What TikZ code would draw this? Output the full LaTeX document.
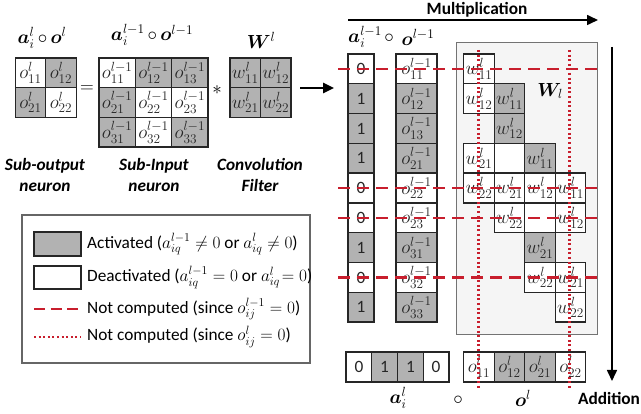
\RequirePackage{fix-cm}
\documentclass[tikz,border=0pt]{standalone}
\usepackage{fontspec}
\setmainfont{Carlito}
\usepackage{amsmath}
\usepackage{bm}
\usetikzlibrary{arrows.meta}
\definecolor{ncred}{RGB}{200,30,45}
\newcommand{\figfont}{\fontsize{17.28}{21}\selectfont}
\newcommand{\cellfont}{\fontsize{19}{22}\selectfont}
\begin{document}
\begin{tikzpicture}[x=1pt,y=-1pt,>={Triangle[length=11pt,width=10pt]},
  every node/.style={font=\figfont},
  cell/.style={draw=black!85,line width=1.4pt,inner sep=0pt,outer sep=0pt,minimum width=30.5pt,minimum height=29.8pt,text=black!85,font=\cellfont},
  act/.style={cell,fill=black!30},
  deact/.style={cell,fill=white},
  caption/.style={font=\figfont\bfseries\itshape,align=center},
  notin/.style={draw=ncred,line width=2.2pt,dash pattern=on 12pt off 7pt},
  notout/.style={draw=ncred,line width=2.2pt,dash pattern=on 2pt off 2.6pt},]
\useasboundingbox (0,0) rectangle (641,414);
% sub-output neuron = sub-input neuron * filter
\node (lab-out) at (42,38)[font=\cellfont] {$\bm a_i^{l}\,{\circ}\,\bm o^{l}$};
\node (lab-in) at (152,35)[font=\cellfont] {$\bm a_i^{l-1}\,{\circ}\,\bm o^{l-1}$};
\node (lab-W) at (261,40)[font=\cellfont] {$\bm W^{l}$};
\node (S11) at (30.5,73)[deact] {$o_{11}^{l}$};
\node (S12) at (61,73)[act] {$o_{12}^{l}$};
\node (S21) at (30.5,102.5)[act] {$o_{21}^{l}$};
\node (S22) at (61,102.5)[deact] {$o_{22}^{l}$};
\node (eq) at (87,89)[font=\cellfont] {$=$};
\node (I11) at (117.2,72.8)[deact,minimum width=36.3pt] {$o_{11}^{l-1}$};
\node (I12) at (153.5,72.8)[act,minimum width=36.3pt] {$o_{12}^{l-1}$};
\node (I13) at (189.8,72.8)[act,minimum width=36.3pt] {$o_{13}^{l-1}$};
\node (I21) at (117.2,102.5)[act,minimum width=36.3pt] {$o_{21}^{l-1}$};
\node (I22) at (153.5,102.5)[deact,minimum width=36.3pt] {$o_{22}^{l-1}$};
\node (I23) at (189.8,102.5)[deact,minimum width=36.3pt] {$o_{23}^{l-1}$};
\node (I31) at (117.2,132.2)[act,minimum width=36.3pt] {$o_{31}^{l-1}$};
\node (I32) at (153.5,132.2)[deact,minimum width=36.3pt] {$o_{32}^{l-1}$};
\node (I33) at (189.8,132.2)[act,minimum width=36.3pt] {$o_{33}^{l-1}$};
\node (ast) at (217,90)[font=\cellfont] {$*$};
\node (F11) at (245.3,73)[act] {$w_{11}^{l}$};
\node (F12) at (275.8,73)[act] {$w_{12}^{l}$};
\node (F21) at (245.3,102.5)[act] {$w_{21}^{l}$};
\node (F22) at (275.8,102.5)[act] {$w_{22}^{l}$};
\node (cap-out) at (45,175)[caption] {Sub-output\\neuron};
\node (cap-in) at (154,175)[caption] {Sub-Input\\neuron};
\node (cap-W) at (260,175)[caption] {Convolution\\Filter};
\coordinate (go1) at (300,88);
\coordinate (go2) at (334,88);
\draw[->,line width=2.5pt] (go1)--(go2);
% legend
\node (leg) at (166,289)[draw=black!60,line width=1.2pt,minimum width=288pt,minimum height=148pt] {};
\node (sw1) at (57.5,244)[act,minimum width=47pt,minimum height=24pt] {};
\node (sw2) at (57.5,277.5)[deact,minimum width=47pt,minimum height=23pt] {};
\coordinate (ln1a) at (34,309);
\coordinate (ln1b) at (81,309);
\coordinate (ln2a) at (34,337);
\coordinate (ln2b) at (81,337);
\draw[notin,dash pattern=on 11pt off 5.5pt] (ln1a)--(ln1b);
\draw[notout] (ln2a)--(ln2b);
\node (t-act) at (87,244)[anchor=west,inner sep=0pt] {Activated ($a_{iq}^{l-1}\neq 0$ or $a_{iq}^{l}\neq 0$)};
\node (t-deact) at (87,277.5)[anchor=west,inner sep=0pt] {Deactivated ($a_{iq}^{l-1}=0$ or $a_{iq}^{l}\!= 0$)};
\node (t-in) at (87,309)[anchor=west,inner sep=0pt] {Not computed (since $o_{ij}^{l-1}=0$)};
\node (t-out) at (87,337)[anchor=west,inner sep=0pt] {Not computed (since $o_{ij}^{l}=0$)};
% multiplication / addition
\node (mul) at (477,10)[font=\figfont\bfseries] {Multiplication};
\coordinate (mul1) at (348,20);
\coordinate (mul2) at (598,20);
\draw[->,line width=1.6pt] (mul1)--(mul2);
\node (add) at (609,398)[font=\figfont\bfseries] {Addition};
\coordinate (add1) at (612,47);
\coordinate (add2) at (612,381);
\draw[->,line width=1.6pt] (add1)--(add2);
% input columns
\node (lab-a) at (365,37)[font=\cellfont] {$\bm a_i^{l-1}$};
\node (lab-c1) at (389,38)[font=\cellfont] {$\circ$};
\node (lab-o) at (418,37)[font=\cellfont] {$\bm o^{l-1}$};
\node (a1) at (361,68.9)[deact,minimum width=26pt,font=\figfont] {0};
\node (a2) at (361,98.7)[act,minimum width=26pt,font=\figfont] {1};
\node (a3) at (361,128.5)[act,minimum width=26pt,font=\figfont] {1};
\node (a4) at (361,158.3)[act,minimum width=26pt,font=\figfont] {1};
\node (a5) at (361,188.1)[deact,minimum width=26pt,font=\figfont] {0};
\node (a6) at (361,217.9)[deact,minimum width=26pt,font=\figfont] {0};
\node (a7) at (361,247.7)[act,minimum width=26pt,font=\figfont] {1};
\node (a8) at (361,277.5)[deact,minimum width=26pt,font=\figfont] {0};
\node (a9) at (361,307.3)[act,minimum width=26pt,font=\figfont] {1};
\node (o1) at (416.5,68.9)[deact,minimum width=41pt] {$o_{11}^{l-1}$};
\node (o2) at (416.5,98.7)[act,minimum width=41pt] {$o_{12}^{l-1}$};
\node (o3) at (416.5,128.5)[act,minimum width=41pt] {$o_{13}^{l-1}$};
\node (o4) at (416.5,158.3)[act,minimum width=41pt] {$o_{21}^{l-1}$};
\node (o5) at (416.5,188.1)[deact,minimum width=41pt] {$o_{22}^{l-1}$};
\node (o6) at (416.5,217.9)[deact,minimum width=41pt] {$o_{23}^{l-1}$};
\node (o7) at (416.5,247.7)[act,minimum width=41pt] {$o_{31}^{l-1}$};
\node (o8) at (416.5,277.5)[deact,minimum width=41pt] {$o_{32}^{l-1}$};
\node (o9) at (416.5,307.3)[act,minimum width=41pt] {$o_{33}^{l-1}$};
% unrolled filter W_l
\node (Wbox) at (526.5,189)[draw=black!55,fill=black!4,line width=1pt,minimum width=141pt,minimum height=292pt] {};
\node (Wl) at (550,91)[font=\cellfont] {$\bm W_{l}$};
\node (m11) at (479,68.9)[deact] {$w_{11}^{l}$};
\node (m21) at (479,98.7)[deact] {$w_{12}^{l}$};
\node (m22) at (509.5,98.7)[act] {$w_{11}^{l}$};
\node (m32) at (509.5,128.5)[act] {$w_{12}^{l}$};
\node (m41) at (479,158.3)[deact] {$w_{21}^{l}$};
\node (m42) at (509.5,158.3)[deact] {};
\node (m43) at (540,158.3)[act] {$w_{11}^{l}$};
\node (m51) at (479,188.1)[deact] {$w_{22}^{l}$};
\node (m52) at (509.5,188.1)[deact] {$w_{21}^{l}$};
\node (m53) at (540,188.1)[deact] {$w_{12}^{l}$};
\node (m54) at (570.5,188.1)[deact] {$w_{11}^{l}$};
\node (m62) at (509.5,217.9)[deact] {$w_{22}^{l}$};
\node (m63) at (540,217.9)[deact] {};
\node (m64) at (570.5,217.9)[deact] {$w_{12}^{l}$};
\node (m73) at (540,247.7)[act] {$w_{21}^{l}$};
\node (m83) at (540,277.5)[deact] {$w_{22}^{l}$};
\node (m84) at (570.5,277.5)[deact] {$w_{21}^{l}$};
\node (m94) at (570.5,307.3)[deact] {$w_{22}^{l}$};
% output row
\node (b1) at (358.9,367)[deact,minimum width=25.8pt,minimum height=30pt,font=\figfont] {0};
\node (b2) at (384.6,367)[act,minimum width=25.8pt,minimum height=30pt,font=\figfont] {1};
\node (b3) at (410.4,367)[act,minimum width=25.8pt,minimum height=30pt,font=\figfont] {1};
\node (b4) at (436.1,367)[deact,minimum width=25.8pt,minimum height=30pt,font=\figfont] {0};
\node (p1) at (479,367)[deact,minimum height=30pt] {$o_{11}^{l}$};
\node (p2) at (509.5,367)[act,minimum height=30pt] {$o_{12}^{l}$};
\node (p3) at (540,367)[act,minimum height=30pt] {$o_{21}^{l}$};
\node (p4) at (570.5,367)[deact,minimum height=30pt] {$o_{22}^{l}$};
\node (lab-al) at (398,398)[font=\cellfont] {$\bm a_i^{l}$};
\node (lab-c2) at (458,400)[font=\cellfont] {$\circ$};
\node (lab-ol) at (523,398)[font=\cellfont] {$\bm o^{l}$};
% skipped computations
\draw[notin] (338,68.9)--(603,68.9);
\draw[notin] (338,188.1)--(603,188.1);
\draw[notin] (338,217.9)--(603,217.9);
\draw[notin] (338,277.5)--(603,277.5);
\draw[notout] (478.5,50)--(478.5,388);
\draw[notout] (569.5,50)--(569.5,388);
\end{tikzpicture}
\end{document}
